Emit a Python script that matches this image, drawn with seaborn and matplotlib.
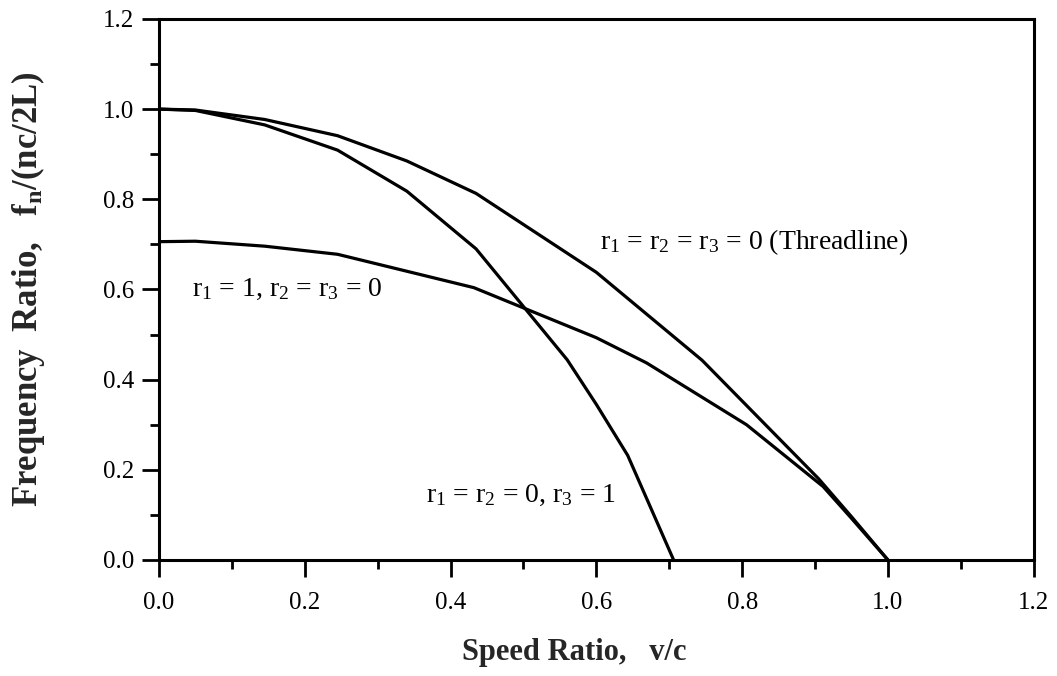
import numpy as np
import pandas as pd
import matplotlib
matplotlib.use("Agg")
import matplotlib.pyplot as plt
import seaborn as sns
from matplotlib.ticker import MultipleLocator

# ---- data ----
v_thread = [0.0, 0.05, 0.145, 0.245, 0.34, 0.435, 0.60, 0.745, 0.905, 0.95, 1.0]
f_thread = [1.0, 0.998, 0.977, 0.941, 0.885, 0.813, 0.638, 0.443, 0.18, 0.096, 0.0]

v_r3 = [0.0, 0.05, 0.145, 0.245, 0.34, 0.435, 0.56, 0.60, 0.643, 0.706]
f_r3 = [1.0, 0.997, 0.965, 0.909, 0.818, 0.690, 0.444, 0.345, 0.232, 0.0]

v_r1 = [0.0, 0.05, 0.145, 0.245, 0.432, 0.60, 0.669, 0.806, 0.911, 0.948, 1.0]
f_r1 = [0.706, 0.707, 0.696, 0.678, 0.604, 0.493, 0.437, 0.300, 0.163, 0.096, 0.0]

curve_names = ["threadline", "r3", "r1"]
x_ticks = [0.0, 0.2, 0.4, 0.6, 0.8, 1.0, 1.2]
y_ticks = [0.0, 0.2, 0.4, 0.6, 0.8, 1.0, 1.2]

df = pd.concat([
    pd.DataFrame({"v": v_thread, "f": f_thread, "curve": curve_names[0]}),
    pd.DataFrame({"v": v_r3, "f": f_r3, "curve": curve_names[1]}),
    pd.DataFrame({"v": v_r1, "f": f_r1, "curve": curve_names[2]}),
], ignore_index=True)

sns.set_theme(style="white")
plt.rcParams["font.family"] = ["Liberation Serif", "DejaVu Serif"]
plt.rcParams["mathtext.fontset"] = "custom"
plt.rcParams["mathtext.rm"] = "Liberation Serif"
plt.rcParams["mathtext.it"] = "Liberation Serif:italic"
plt.rcParams["mathtext.bf"] = "Liberation Serif:bold"

fig, ax = plt.subplots(figsize=(10.57, 6.76), dpi=100)
fig.subplots_adjust(left=0.1504, right=0.978, top=0.972, bottom=0.1716)

sns.lineplot(data=df, x="v", y="f", hue="curve", units="curve", estimator=None,
             sort=False, palette={n: "black" for n in curve_names},
             linewidth=2.3, legend=False, ax=ax)

ax.set_xlim(0, 1.2)
ax.set_ylim(0, 1.2)
ax.set_xticks(x_ticks)
ax.set_yticks(y_ticks)
ax.set_xticklabels([f"{t:.1f}" for t in x_ticks])
ax.set_yticklabels([f"{t:.1f}" for t in y_ticks])
ax.xaxis.set_minor_locator(MultipleLocator(0.1))
ax.yaxis.set_minor_locator(MultipleLocator(0.1))
ax.tick_params(axis="both", which="major", direction="out", length=12, width=2,
               color="black", labelsize=18, labelcolor="black",
               bottom=True, left=True, top=False, right=False)
ax.tick_params(axis="y", which="major", pad=6)
ax.tick_params(axis="x", which="major", pad=11)
ax.tick_params(axis="both", which="minor", direction="out", length=6.5, width=2,
               color="black", bottom=True, left=True, top=False, right=False)

for s in ax.spines.values():
    s.set_visible(True)
    s.set_color("black")
    s.set_linewidth(2.2)

ax.set_xlabel("Speed Ratio,   v/c", fontsize=22, fontweight="bold")
ax.set_ylabel(r"Frequency  Ratio,   $\mathbf{f_n}$/(nc/2L)", fontsize=25,
              fontweight="bold")
ax.xaxis.set_label_coords(0.475, -0.145)
ax.yaxis.set_label_coords(-0.128, 0.5)

txt_kw = dict(fontsize=20, color="black", va="center", ha="left")
ax.text(0.605, 0.705, r"r$_1$ = r$_2$ = r$_3$ = 0 (Threadline)", **txt_kw)
ax.text(0.045, 0.60, r"r$_1$ = 1, r$_2$ = r$_3$ = 0", **txt_kw)
ax.text(0.366, 0.143, r"r$_1$ = r$_2$ = 0, r$_3$ = 1", **txt_kw)

fig.savefig("out.png", dpi=100)
